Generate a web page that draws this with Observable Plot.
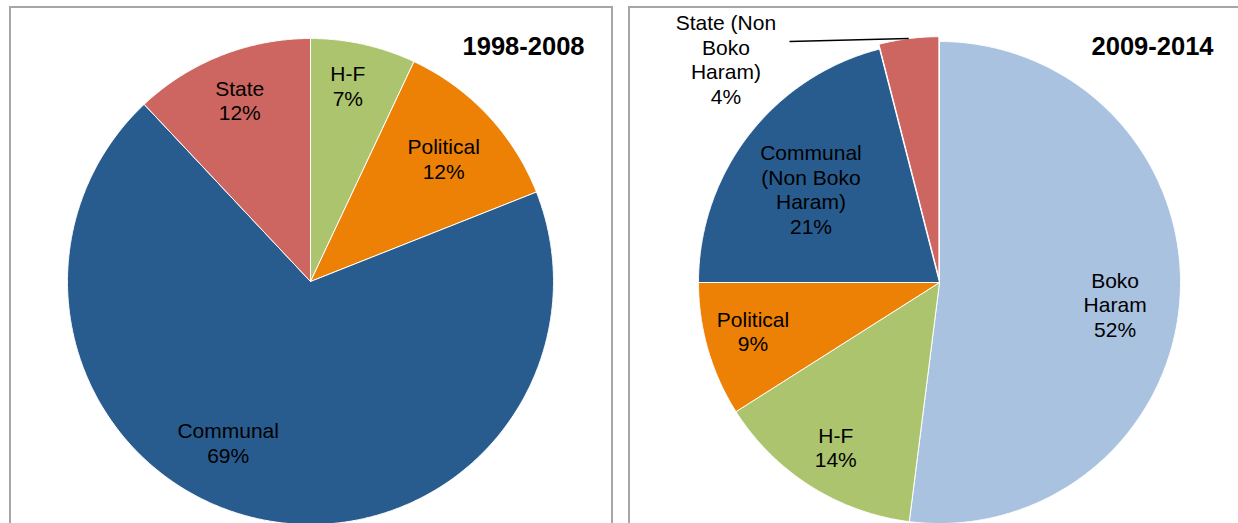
<!DOCTYPE html>
<html>
<head>
<meta charset="utf-8">
<script src="https://cdn.jsdelivr.net/npm/d3@7"></script>
<script src="https://cdn.jsdelivr.net/npm/@observablehq/plot@0.6"></script>
<style>
  html, body { margin: 0; padding: 0; background: #fff; }
  #wrap { position: relative; width: 1238px; height: 523px; overflow: hidden; font-family: "Liberation Sans", Arial, sans-serif; }
  .panel { position: absolute; top: 6px; height: 700px; border: 2px solid #a6a6a6; box-sizing: border-box; }
  .chart { position: absolute; top: 0; }
</style>
</head>
<body>
<div id="wrap">
  <div class="panel" style="left:9px; width:604px;"></div>
  <div class="panel" style="left:628px; width:700px;"></div>
  <div class="chart" id="left" style="left:0px;"></div>
  <div class="chart" id="right" style="left:620px;"></div>
</div>
<script>
// ---- Data ----
const periods = ["1998-2008", "2009-2014"];

const leftCategories = ["H-F", "Political", "Communal", "State"];
const leftLabels = ["H-F", "Political", "Communal", "State"];
const leftValues = [7, 12, 69, 12];

const rightCategories = ["Boko Haram", "H-F", "Political", "Communal (Non Boko Haram)", "State (Non Boko Haram)"];
const rightLabels = ["Boko\nHaram", "H-F", "Political", "Communal\n(Non Boko\nHaram)", "State (Non\nBoko\nHaram)"];
const rightValues = [52, 14, 9, 21, 4];

// ---- Styles / layout (not data) ----
const colorOf = {
  "H-F": "#abc46d",
  "Political": "#ec8105",
  "Communal": "#285c8f",
  "State": "#cd6660",
  "Boko Haram": "#a8c2e0",
  "Communal (Non Boko Haram)": "#285c8f",
  "State (Non Boko Haram)": "#cd6660"
};
// label nudges in pixels relative to mid-angle point at 0.78 radius
const leftNudges = [[-4, -11], [-5, 7], [-41, -24], [-1, -5]];
const rightNudges = [[-12, 10], [-3, 6], [-6, -4], [20, 22], [-190, -37]];
const rightExplode = [0, 0, 0, 0, 0.02];

function buildPie(categories, values, explode) {
  const arcs = d3.pie().sort(null).value(d => d)(values);
  const rows = [];
  arcs.forEach((a, i) => {
    const mid = (a.startAngle + a.endAngle) / 2;
    const ox = Math.sin(mid) * (explode ? explode[i] : 0);
    const oy = Math.cos(mid) * (explode ? explode[i] : 0);
    rows.push({key: categories[i], x: ox, y: oy});
    const n = Math.max(2, Math.ceil((a.endAngle - a.startAngle) / 0.005));
    for (let k = 0; k <= n; k++) {
      const t = a.startAngle + (a.endAngle - a.startAngle) * k / n;
      rows.push({key: categories[i], x: ox + Math.sin(t), y: oy + Math.cos(t)});
    }
    rows.push({key: categories[i], x: ox, y: oy});
  });
  return {arcs, rows};
}

function labelRows(arcs, labels, values, nudges, R) {
  return arcs.map((a, i) => {
    const mid = (a.startAngle + a.endAngle) / 2;
    return {
      text: labels[i] + "\n" + values[i] + "%",
      x: Math.sin(mid) * 0.78 + nudges[i][0] / R,
      y: Math.cos(mid) * 0.78 - nudges[i][1] / R
    };
  });
}

function pieChart({width, cx, cy, R, categories, labels, values, nudges, explode, title, titleRight, extra}) {
  const {arcs, rows} = buildPie(categories, values, explode);
  const labs = labelRows(arcs, labels, values, nudges, R);
  const marks = [
    Plot.line(rows, {x: "x", y: "y", z: "key", fill: d => colorOf[d.key], stroke: "#ffffff", strokeWidth: 1, strokeLinejoin: "round", curve: "linear"}),
    Plot.text(labs, {x: "x", y: "y", text: "text", lineAnchor: "middle", lineHeight: 1.17, fontSize: 21, fill: "#000"}),
    Plot.text([title], {frameAnchor: "top-right", dx: -(width - titleRight), dy: 36, lineAnchor: "top", textAnchor: "end", fontSize: 25.5, fontWeight: "bold", fill: "#000"})
  ];
  if (extra) marks.push(...extra(arcs, R));
  return Plot.plot({
    width, height: 523,
    margin: 0,
    style: {background: "transparent", fontFamily: "'Liberation Sans', Arial, sans-serif", overflow: "visible"},
    x: {domain: [-1, 1], range: [cx - R, cx + R], axis: null},
    y: {domain: [-1, 1], range: [cy + R, cy - R], axis: null},
    marks
  });
}

const left = pieChart({
  width: 620, cx: 310, cy: 281, R: 243,
  categories: leftCategories, labels: leftLabels, values: leftValues,
  nudges: leftNudges, explode: null, title: periods[0], titleRight: 584
});
document.getElementById("left").appendChild(left);

const right = pieChart({
  width: 618, cx: 319, cy: 282, R: 241,
  categories: rightCategories, labels: rightLabels, values: rightValues,
  nudges: rightNudges, explode: rightExplode, title: periods[1], titleRight: 593,
  extra: (arcs, R) => {
    const a = arcs[4];
    const mid = (a.startAngle + a.endAngle) / 2;
    const r = 1 + rightExplode[4];
    const end = {x: Math.sin(mid) * r, y: Math.cos(mid) * r};
    const start = {x: -150 / R, y: 241 / R};
    return [Plot.link([{x1: start.x, y1: start.y, x2: end.x, y2: end.y}], {x1: "x1", y1: "y1", x2: "x2", y2: "y2", stroke: "#000", strokeWidth: 1.5})];
  }
});
document.getElementById("right").appendChild(right);
</script>
</body>
</html>
